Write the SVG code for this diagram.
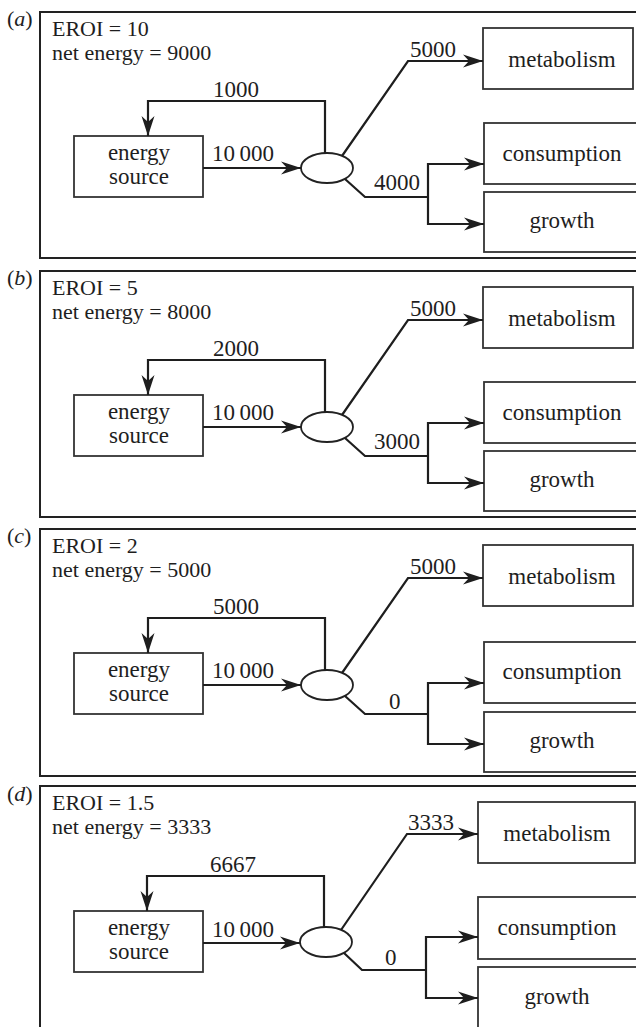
<svg xmlns="http://www.w3.org/2000/svg" width="636" height="1027" viewBox="0 0 636 1027" font-family="'Liberation Serif', 'DejaVu Serif', serif">
<style>
text{font-family:'Liberation Serif','DejaVu Serif',serif;fill:#1e1e1e}
.t{font-size:23px}
.h{font-size:22px}
.m{text-anchor:middle}
.box{fill:#fff;stroke:#333;stroke-width:1.8}
.frame{fill:none;stroke:#222;stroke-width:2}
.hub{fill:#fff;stroke:#222;stroke-width:1.8}
.c{fill:none;stroke:#1e1e1e;stroke-width:2.2}
.a{marker-end:url(#arr)}
</style>
<defs>
<marker id="arr" markerUnits="userSpaceOnUse" markerWidth="22" markerHeight="14" refX="20" refY="7" orient="auto">
<path d="M0,0.5 L20,7 L0,13.5 L6,7 Z" fill="#1e1e1e"/>
</marker>
</defs>

<!-- Panel a -->
<g id="panel-a">
<path class="frame" d="M640,12 H40 V258 H640"/>
<text class="h" x="7" y="26">(<tspan font-style="italic">a</tspan>)</text>
<text class="h" x="52" y="36">EROI = 10</text>
<text class="h" x="52" y="60">net energy = 9000</text>
<g id="a-source"><rect class="box" x="74" y="136" width="129" height="61"/><text class="t m" x="139" y="160">energy</text><text class="t m" x="139" y="184">source</text></g>
<g id="a-hub"><ellipse class="hub" cx="327" cy="168" rx="26" ry="15"/></g>
<g id="a-metabolism"><rect class="box" x="483" y="28" width="150" height="61"/><text class="t m" x="562" y="67">metabolism</text></g>
<g id="a-consumption"><rect class="box" x="484" y="123" width="170" height="61"/><text class="t m" x="562" y="161">consumption</text></g>
<g id="a-growth"><rect class="box" x="484" y="192" width="170" height="60"/><text class="t m" x="562" y="228">growth</text></g>
<g id="a-connectors">
<path class="c a" d="M325,153 V101 H148 V136"/>
<path class="c a" d="M203,168 H301"/>
<path class="c a" d="M342,156 L408,61 H483"/>
<path class="c" d="M345,179 L365,197 H428"/>
<path class="c a" d="M428,197 V164 H484"/>
<path class="c a" d="M428,197 V224 H484"/>
<text class="t" x="213" y="97">1000</text>
<text class="t" x="212" y="161">10&#8201;000</text>
<text class="t" x="410" y="57">5000</text>
<text class="t" x="374" y="190">4000</text>
</g>
</g>

<!-- Panel b -->
<g id="panel-b" transform="translate(0,259)">
<path class="frame" d="M640,12 H40 V258 H640"/>
<text class="h" x="7" y="26">(<tspan font-style="italic">b</tspan>)</text>
<text class="h" x="52" y="36">EROI = 5</text>
<text class="h" x="52" y="60">net energy = 8000</text>
<g id="b-source"><rect class="box" x="74" y="136" width="129" height="61"/><text class="t m" x="139" y="160">energy</text><text class="t m" x="139" y="184">source</text></g>
<g id="b-hub"><ellipse class="hub" cx="327" cy="168" rx="26" ry="15"/></g>
<g id="b-metabolism"><rect class="box" x="483" y="28" width="150" height="61"/><text class="t m" x="562" y="67">metabolism</text></g>
<g id="b-consumption"><rect class="box" x="484" y="123" width="170" height="61"/><text class="t m" x="562" y="161">consumption</text></g>
<g id="b-growth"><rect class="box" x="484" y="192" width="170" height="60"/><text class="t m" x="562" y="228">growth</text></g>
<g id="b-connectors">
<path class="c a" d="M325,153 V101 H148 V136"/>
<path class="c a" d="M203,168 H301"/>
<path class="c a" d="M342,156 L408,61 H483"/>
<path class="c" d="M345,179 L365,197 H428"/>
<path class="c a" d="M428,197 V164 H484"/>
<path class="c a" d="M428,197 V224 H484"/>
<text class="t" x="213" y="97">2000</text>
<text class="t" x="212" y="161">10&#8201;000</text>
<text class="t" x="410" y="57">5000</text>
<text class="t" x="374" y="190">3000</text>
</g>
</g>

<!-- Panel c -->
<g id="panel-c" transform="translate(0,517)">
<path class="frame" d="M640,12 H40 V259 H640"/>
<text class="h" x="7" y="26">(<tspan font-style="italic">c</tspan>)</text>
<text class="h" x="52" y="36">EROI = 2</text>
<text class="h" x="52" y="60">net energy = 5000</text>
<g id="c-source"><rect class="box" x="74" y="136" width="129" height="61"/><text class="t m" x="139" y="160">energy</text><text class="t m" x="139" y="184">source</text></g>
<g id="c-hub"><ellipse class="hub" cx="327" cy="168" rx="26" ry="15"/></g>
<g id="c-metabolism"><rect class="box" x="483" y="28" width="150" height="61"/><text class="t m" x="562" y="67">metabolism</text></g>
<g id="c-consumption"><rect class="box" x="484" y="125" width="170" height="61"/><text class="t m" x="562" y="162">consumption</text></g>
<g id="c-growth"><rect class="box" x="484" y="195" width="170" height="60"/><text class="t m" x="562" y="231">growth</text></g>
<g id="c-connectors">
<path class="c a" d="M325,153 V101 H148 V136"/>
<path class="c a" d="M203,168 H301"/>
<path class="c a" d="M342,156 L408,61 H483"/>
<path class="c" d="M345,179 L365,197 H428"/>
<path class="c a" d="M428,197 V166 H484"/>
<path class="c a" d="M428,197 V227 H484"/>
<text class="t" x="213" y="97">5000</text>
<text class="t" x="212" y="161">10&#8201;000</text>
<text class="t" x="410" y="57">5000</text>
<text class="t" x="389" y="192">0</text>
</g>
</g>

<!-- Panel d -->
<g id="panel-d" transform="translate(0,775)">
<path class="frame" d="M640,11 H40 V260"/>
<text class="h" x="7" y="26">(<tspan font-style="italic">d</tspan>)</text>
<text class="h" x="52" y="35">EROI = 1.5</text>
<text class="h" x="52" y="59">net energy = 3333</text>
<g id="d-source"><rect class="box" x="74" y="136" width="129" height="61"/><text class="t m" x="139" y="160">energy</text><text class="t m" x="139" y="184">source</text></g>
<g id="d-hub"><ellipse class="hub" cx="326" cy="167" rx="26" ry="15"/></g>
<g id="d-metabolism"><rect class="box" x="478" y="27" width="157" height="61"/><text class="t m" x="557" y="66">metabolism</text></g>
<g id="d-consumption"><rect class="box" x="478" y="122" width="175" height="62"/><text class="t m" x="557" y="160">consumption</text></g>
<g id="d-growth"><rect class="box" x="478" y="192" width="175" height="80"/><text class="t m" x="557" y="229">growth</text></g>
<g id="d-connectors">
<path class="c a" d="M324,152 V101 H147 V136"/>
<path class="c a" d="M203,168 H300"/>
<path class="c a" d="M341,155 L407,59 H478"/>
<path class="c" d="M344,178 L362,195 H426"/>
<path class="c a" d="M426,195 V162 H478"/>
<path class="c a" d="M426,195 V223 H478"/>
<text class="t" x="210" y="97">6667</text>
<text class="t" x="212" y="162">10&#8201;000</text>
<text class="t" x="408" y="55">3333</text>
<text class="t" x="385" y="190">0</text>
</g>
</g>
</svg>
